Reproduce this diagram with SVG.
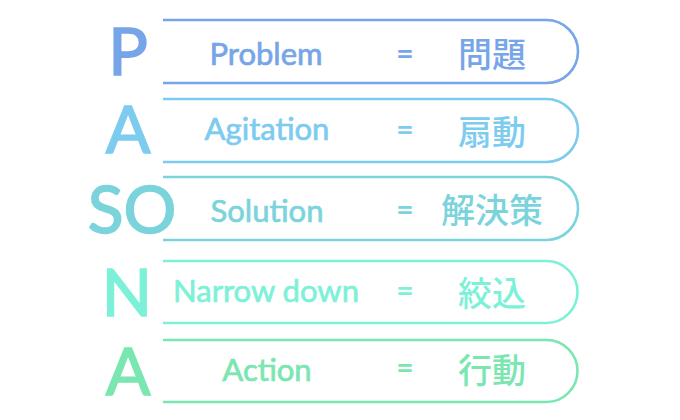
<svg xmlns="http://www.w3.org/2000/svg" width="680" height="420" viewBox="0 0 680 420">
<style>
.frame{fill:none;stroke-width:2.6}
.big{font-family:Lato,"Noto Sans",sans-serif;font-size:66px;text-anchor:middle;stroke-width:1.6}
.lbl{font-family:Lato,"Noto Sans",sans-serif;font-size:31px;text-anchor:middle;stroke-width:0.7}
.eq{font-family:Lato,"Noto Sans",sans-serif;font-size:30px;text-anchor:middle;font-weight:bold}
.jp{font-family:"Noto Sans CJK JP","Noto Sans CJK SC",sans-serif;font-size:34px;text-anchor:middle;font-weight:500}
.c1{fill:#76A5E8;stroke:#76A5E8}.s1{stroke:#76A5E8}
.c2{fill:#7ECBF0;stroke:#7ECBF0}.s2{stroke:#7ECBF0}
.c3{fill:#7BD3DC;stroke:#7BD3DC}.s3{stroke:#7BD3DC}
.c4{fill:#7DF1D8;stroke:#7DF1D8}.s4{stroke:#7DF1D8}
.c5{fill:#7AE6B0;stroke:#7AE6B0}.s5{stroke:#7AE6B0}
.eq,.jp{stroke-width:0}
</style>
<rect width="680" height="420" fill="#ffffff"/>
<g id="row-p">
<path class="frame s1" d="M163,20 H546.5 A31.5,31.5 0 0 1 546.5,83 H163"/>
<text class="big c1" x="128" y="75">P</text>
<text class="lbl c1" x="266" y="65">Problem</text>
<text class="eq c1" x="405" y="64">=</text>
<text class="jp c1" x="492" y="67">問題</text>
</g>
<g id="row-a1">
<path class="frame s2" d="M163,99 H546.5 A31.5,31.5 0 0 1 546.5,162 H163"/>
<text class="big c2" x="128" y="153">A</text>
<text class="lbl c2" x="267" y="140">Agitation</text>
<text class="eq c2" x="405" y="140">=</text>
<text class="jp c2" x="492" y="145">扇動</text>
</g>
<g id="row-so">
<path class="frame s3" d="M163,177 H546.5 A31.5,31.5 0 0 1 546.5,240 H163"/>
<text class="big c3" x="132" y="233">SO</text>
<text class="lbl c3" x="267" y="222">Solution</text>
<text class="eq c3" x="405" y="220">=</text>
<text class="jp c3" x="492" y="223">解決策</text>
</g>
<g id="row-n">
<path class="frame s4" d="M163,261 H546.5 A31,31 0 0 1 546.5,323 H163"/>
<text class="big c4" x="127" y="316">N</text>
<text class="lbl c4" x="266" y="302">Narrow down</text>
<text class="eq c4" x="405" y="301">=</text>
<text class="jp c4" x="492" y="306">絞込</text>
</g>
<g id="row-a2">
<path class="frame s5" d="M163,340 H546.5 A31,31 0 0 1 546.5,402 H163"/>
<text class="big c5" x="128" y="395">A</text>
<text class="lbl c5" x="267" y="381">Action</text>
<text class="eq c5" x="405" y="378">=</text>
<text class="jp c5" x="492" y="383">行動</text>
</g>
<g id="connectors"></g>
</svg>
